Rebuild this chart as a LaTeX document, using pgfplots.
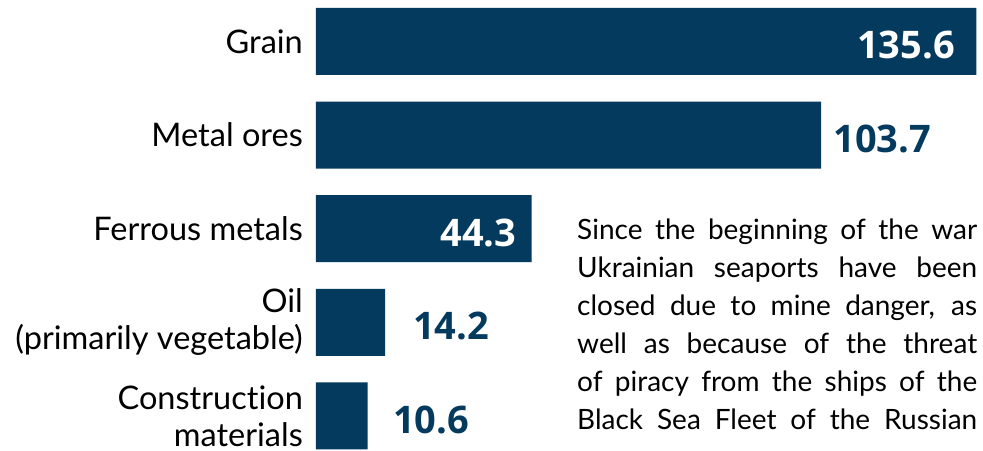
\documentclass[border=0pt]{standalone}
\usepackage{fontspec}
\setmainfont{Lato}[Ligatures=NoCommon]
\newfontfamily\numfont{Open Sans}
\usepackage{pgfplots}
\pgfplotsset{compat=1.18}
\definecolor{navy}{RGB}{3,58,94}
\begin{document}
\begin{tikzpicture}[x=1pt,y=1pt]
\useasboundingbox (0,0) rectangle (983,450);
\begin{axis}[
  at={(316pt,0pt)}, anchor=south west,
  scale only axis, width=667pt, height=450pt,
  xmin=0, xmax=136.96,
  y dir=reverse, ymin=-0.443, ymax=4.364,
  axis line style={draw=none},
  major tick length=0pt,
  xtick=\empty,
  ytick={0,1,2,3,4},
  yticklabels={Grain,Metal ores,Ferrous metals,{Oil\\(primarily vegetable)},{Construction\\materials}},
  yticklabel style={font=\fontsize{32.5}{37}\selectfont, align=right, anchor=east, inner sep=0pt, xshift=-13pt},
  clip=false,
]
\addplot[xbar, fill=navy, draw=none, bar width=67pt, bar shift=0pt] coordinates {(135.6,0) (103.7,1) (44.3,2) (14.2,3) (10.6,4)};
\addplot[draw=none, mark=none, nodes near coords, point meta=explicit symbolic,
  nodes near coords style={anchor=east, text=white, inner sep=0pt, yshift=-4pt, font=\numfont\bfseries\fontsize{38}{40}\selectfont}]
  coordinates {(131.2,0)[135.6] (41.2,2)[44.3]};
\addplot[draw=none, mark=none, nodes near coords, point meta=explicit symbolic,
  nodes near coords style={anchor=west, text=navy, inner sep=0pt, yshift=-4pt, font=\numfont\bfseries\fontsize{38}{40}\selectfont}]
  coordinates {(106.2,1)[103.7] (19.9,3)[14.2] (15.8,4)[10.6]};
\end{axis}
\begin{scope}[every node/.style={anchor=base west, inner sep=0pt, font=\fontsize{28}{37}\selectfont}]
\node at (577,210) {\makebox[400pt][s]{Since the beginning of the war}};
\node at (577,172) {\makebox[400pt][s]{Ukrainian seaports have been}};
\node at (577,134) {\makebox[400pt][s]{closed due to mine danger, as}};
\node at (577,96) {\makebox[400pt][s]{well as because of the threat}};
\node at (577,58) {\makebox[400pt][s]{of piracy from the ships of the}};
\node at (577,20) {\makebox[400pt][s]{Black Sea Fleet of the Russian}};
\end{scope}
\end{tikzpicture}
\end{document}
